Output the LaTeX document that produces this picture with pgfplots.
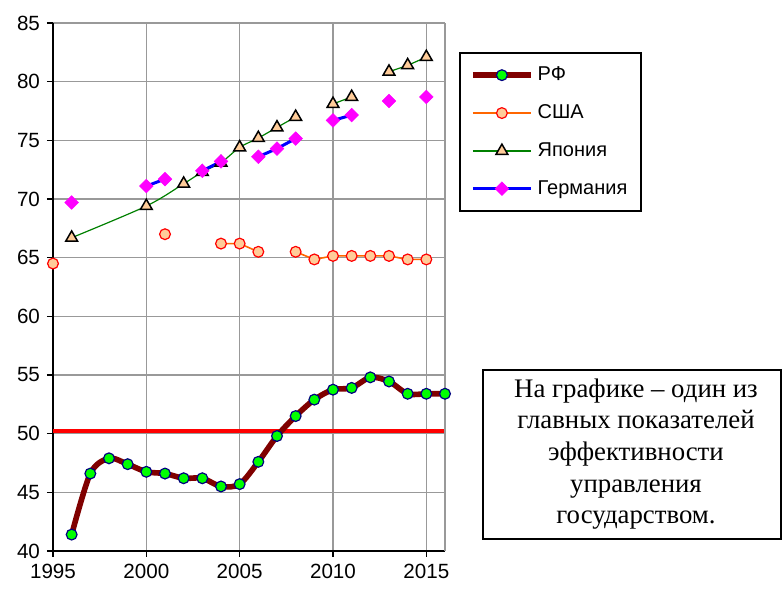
\documentclass[border=0pt]{standalone}
\usepackage{fontspec}
\setmainfont{Liberation Serif}
\newfontfamily\arial{Liberation Sans}
\usepackage{pgfplots}
\pgfplotsset{compat=1.18}
\definecolor{rfline}{HTML}{800000}
\definecolor{rfmark}{HTML}{00FF00}
\definecolor{navy}{HTML}{000080}
\definecolor{usaline}{HTML}{FF6600}
\definecolor{peach}{HTML}{FFCC99}
\definecolor{jpline}{HTML}{008000}
\definecolor{deline}{HTML}{0000FF}
\definecolor{demark}{HTML}{FF00FF}
\begin{document}
\begin{tikzpicture}
\begin{axis}[
    scale only axis,
    width=196pt, height=264pt,
    xmin=1995, xmax=2016,
    ymin=40, ymax=85,
    xtick={1995,2000,...,2015},
    ytick={40,45,...,85},
    axis x line*=bottom,
    axis y line*=left,
    axis line style={line width=0.75pt},
    grid=major,
    grid style={black!40, line width=0.75pt},
    tick align=outside,
    major tick length=3pt,
    tick style={black, line width=0.75pt},
    tick label style={font=\arial\fontsize{10.3}{12}\selectfont},
    /pgf/number format/assume math mode=true,
    /pgf/number format/1000 sep={},
    unbounded coords=jump,
    clip=false,
    legend image code/.code={\draw[mark repeat=2,mark phase=2] plot coordinates {(0pt,0pt) (14.5pt,0pt) (29pt,0pt)};},
    legend style={at={(1.036,0.9456)}, anchor=north west, draw=black,
        line width=1pt, font=\arial\fontsize{10}{12}\selectfont,
        row sep=6.5pt, inner xsep=5pt, inner ysep=5pt},
    legend cell align=left,
]
% red reference line
\addplot[red, line width=2pt, forget plot] coordinates {(1995,50.2) (2016,50.2)};

\addplot[rfline, line width=2.8pt, smooth, mark=*, mark size=2.7pt,
    mark options={fill=rfmark, draw=navy, line width=0.6pt}] coordinates {
    (1996,41.4) (1997,46.6) (1998,47.9) (1999,47.4) (2000,46.75) (2001,46.6)
    (2002,46.2) (2003,46.2) (2004,45.5) (2005,45.7) (2006,47.6) (2007,49.8)
    (2008,51.5) (2009,52.9) (2010,53.75) (2011,53.9) (2012,54.8) (2013,54.45)
    (2014,53.4) (2015,53.4) (2016,53.4)
};
\addlegendentry{РФ}

\addplot[usaline, line width=0.8pt, mark=*, mark size=2.7pt,
    mark options={fill=peach, draw=red, line width=0.6pt}] coordinates {
    (1995,64.5) (1996,nan) (2001,67.0) (2002,nan) (2004,66.2) (2005,66.2)
    (2006,65.5) (2007,nan) (2008,65.5) (2009,64.85) (2010,65.15) (2011,65.15)
    (2012,65.15) (2013,65.15) (2014,64.85) (2015,64.85)
};
\addlegendentry{США}

\addplot[jpline, line width=0.6pt, smooth, mark=triangle*, mark size=3.4pt,
    mark options={fill=peach, draw=black, line width=0.75pt}] coordinates {
    (1996,66.7) (2000,69.4) (2002,71.3) (2003,72.3) (2004,73.1) (2005,74.4)
    (2006,75.2) (2007,76.1) (2008,77.0) (2009,nan) (2010,78.1) (2011,78.7)
    (2012,nan) (2013,80.85) (2014,81.4) (2015,82.1)
};
\addlegendentry{Япония}

\addplot[deline, line width=1.5pt, mark=square*, mark size=2.4pt,
    mark options={fill=demark, draw=demark, rotate=45, line width=0.3pt}] coordinates {
    (1996,69.7) (1997,nan) (2000,71.1) (2001,71.7) (2002,nan) (2003,72.4)
    (2004,73.2) (2005,nan) (2006,73.6) (2007,74.3) (2008,75.15) (2009,nan)
    (2010,76.7) (2011,77.15) (2012,nan) (2013,78.35) (2014,nan) (2015,78.7)
};
\addlegendentry{Германия}

% right border of the plot area
\draw[black!40, line width=0.75pt] (rel axis cs:1,0) -- (rel axis cs:1,1);
\end{axis}
\draw[line width=0.75pt] (215pt,6pt) rectangle (364pt,90.5pt);
\node[align=center, font=\fontsize{13.4}{15.8}\selectfont] at (291.5pt,48.5pt)
    {На графике – один из\\главных показателей\\эффективности\\управления\\государством.};
\pgfresetboundingbox
\path (-26.5pt,-19pt) rectangle (364.5pt,275.5pt);
\end{tikzpicture}
\end{document}
